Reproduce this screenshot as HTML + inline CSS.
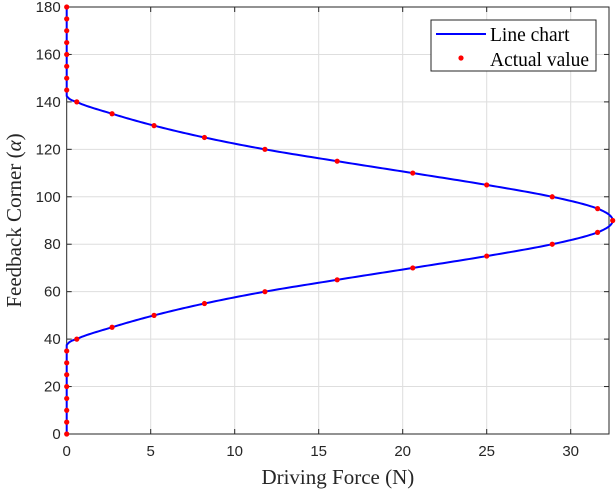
<!DOCTYPE html>
<html><head><style>body{margin:0;background:#fff}svg{display:block}</style></head>
<body>
<svg id="s" width="616" height="493" xmlns="http://www.w3.org/2000/svg" font-family="Liberation Sans, Arial, sans-serif"></svg>
<script>
const s=document.getElementById('s');
const X0=66.7,XS=16.8,Y0=434,YS=(434-7)/180,XR=609,YT=7;
const X=v=>X0+v*XS, Y=v=>Y0-v*YS;
let h='';
h+=`<rect x="${X0}" y="${YT}" width="${XR-X0}" height="${Y0-YT}" fill="#fff"/>`;
for(let i=5;i<=30;i+=5)h+=`<line x1="${X(i)}" y1="${YT}" x2="${X(i)}" y2="${Y0}" stroke="#dedede"/>`;
for(let j=20;j<=160;j+=20)h+=`<line x1="${X0}" y1="${Y(j)}" x2="${XR}" y2="${Y(j)}" stroke="#dedede"/>`;
h+=`<rect x="${X0}" y="${YT}" width="${XR-X0}" height="${Y0-YT}" fill="none" stroke="#262626" stroke-width="1"/>`;
for(let i=0;i<=30;i+=5){h+=`<line x1="${X(i)}" y1="${Y0}" x2="${X(i)}" y2="${Y0-5}" stroke="#262626"/><line x1="${X(i)}" y1="${YT}" x2="${X(i)}" y2="${YT+5}" stroke="#262626"/><text x="${X(i)}" y="${Y0+22}" font-size="15" text-anchor="middle" fill="#262626">${i}</text>`;}
for(let j=0;j<=180;j+=20){h+=`<line x1="${X0}" y1="${Y(j)}" x2="${X0+5}" y2="${Y(j)}" stroke="#262626"/><line x1="${XR}" y1="${Y(j)}" x2="${XR-5}" y2="${Y(j)}" stroke="#262626"/><text x="${X0-6}" y="${Y(j)+5}" font-size="15" text-anchor="end" fill="#262626">${j}</text>`;}
const half={40:0.6,45:2.7,50:5.2,55:8.2,60:11.8,65:16.1,70:20.6,75:25,80:28.9,85:31.6,90:32.5};
const f=a=>{let d=Math.abs(a-90);let b=90-d;if(b<37.5)return 0;
 const keys=[37.5,40,45,50,55,60,65,70,75,80,85,90];const vals=keys.map(k=>k==37.5?0:half[k]);
 for(let i=0;i<keys.length-1;i++){if(b<=keys[i+1]){const t=(b-keys[i])/(keys[i+1]-keys[i]);
  const p0=vals[Math.max(i-1,0)],p1=vals[i],p2=vals[i+1],p3=(i+2<keys.length?vals[i+2]:vals[i]);
  return Math.max(0,0.5*((2*p1)+(-p0+p2)*t+(2*p0-5*p1+4*p2-p3)*t*t+(-p0+3*p1-3*p2+p3)*t*t*t));}}return 32.5;};
let pts=[];for(let a=0;a<=180;a+=0.25)pts.push(X(f(a)).toFixed(2)+','+Y(a).toFixed(2));
h+=`<polyline points="${pts.join(' ')}" fill="none" stroke="#0000ff" stroke-width="2"/>`;
for(let a=0;a<=180;a+=5){let v=(a>=40&&a<=140)?half[90-Math.abs(a-90)]:0;h+=`<circle cx="${X(v)}" cy="${Y(a)}" r="2.6" fill="#ff0000"/>`;}
h+=`<rect x="431" y="20" width="165" height="51" fill="#fff" stroke="#262626"/>`;
h+=`<line x1="436" y1="34" x2="486" y2="34" stroke="#0000ff" stroke-width="2"/><circle cx="461" cy="58" r="2.6" fill="#ff0000"/>`;
h+=`<text x="490" y="41" font-size="19.5" font-family="Liberation Serif, serif">Line chart</text><text x="490" y="66" font-size="19.5" font-family="Liberation Serif, serif">Actual value</text>`;
h+=`<text x="${(X0+XR)/2}" y="484" font-size="21" text-anchor="middle" fill="#262626" font-family="Liberation Serif, serif">Driving Force (N)</text>`;
h+=`<text transform="translate(21,${(YT+Y0)/2}) rotate(-90)" font-size="21" text-anchor="middle" fill="#262626" font-family="Liberation Serif, serif">Feedback Corner (<tspan font-style="italic">α</tspan>)</text>`;
s.innerHTML=h;
</script>
</body></html>
